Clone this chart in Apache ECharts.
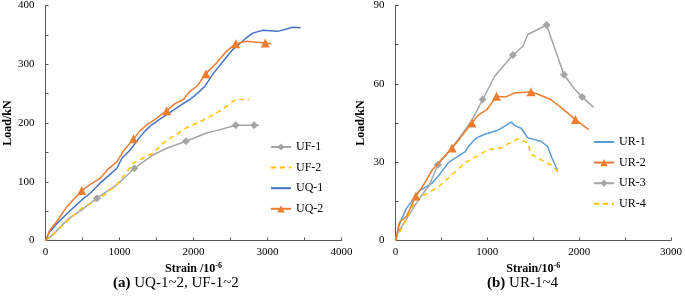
<!DOCTYPE html>
<html>
<head>
<meta charset="utf-8">
<script src="https://cdn.jsdelivr.net/npm/echarts@6/dist/echarts.min.js"></script>
<style>
  html, body { margin: 0; padding: 0; background: #fff; }
  #chart { width: 685px; height: 299px; }
</style>
</head>
<body>
<div id="chart"></div>
<script>
// (a) UQ-1~2, UF-1~2  -- strain (10^-6) / load (kN), marker indices
var uf1Strain = [0, 100, 292, 489, 696, 965, 1202, 1458, 1638, 1898, 2176, 2311, 2450, 2571, 2818, 2885];
var uf1Load   = [0, 10, 35, 52, 72, 95, 123, 146, 157, 169, 183, 187, 192, 196, 196, 196];
var uf1Marks  = [4, 6, 9, 13, 14];

var uf2Strain = [0, 100, 292, 489, 740, 965, 1189, 1458, 1592, 1700, 1907, 2100, 2266, 2400, 2535, 2571, 2760];
var uf2Load   = [0, 10, 33, 55, 72, 95, 132, 149, 166, 175, 192, 203, 214, 224, 237, 240, 240];

var uq1Strain = [0, 50, 150, 292, 489, 600, 740, 850, 965, 1032, 1144, 1256, 1350, 1436, 1550, 1650, 1727, 1850, 1952, 2050, 2150, 2266, 2400, 2530, 2625, 2715, 2800, 2939, 3141, 3342, 3446];
var uq1Load   = [0, 14, 28, 46, 69, 80, 98, 110, 123, 140, 154, 173, 187, 197, 207, 215, 222, 232, 240, 250, 262, 284, 305, 325, 335, 345, 353, 358, 356, 363, 362];

var uq2Strain = [0, 60, 150, 292, 489, 600, 740, 850, 965, 1050, 1189, 1280, 1369, 1500, 1638, 1750, 1862, 1952, 2050, 2167, 2311, 2445, 2571, 2715, 2970, 3051];
var uq2Load   = [0, 18, 32, 58, 85, 95, 106, 122, 134, 152, 173, 187, 197, 208, 221, 233, 240, 254, 263, 284, 302, 322, 335, 339, 336, 335];
var uq2Marks  = [4, 10, 14, 19, 22, 24];

// (b) UR-1~4
var ur1Strain = [0, 40, 115, 258, 400, 473, 581, 760, 795, 870, 957, 1100, 1200, 1261, 1300, 1369, 1441, 1584, 1656, 1700, 1763];
var ur1Load   = [0, 6, 12, 19, 22, 25, 30, 34, 36, 39, 40.5, 42, 44, 45.4, 44, 43, 39.3, 38, 36, 32, 26.8];

var ur2Strain = [0, 43, 115, 222, 300, 400, 500, 616, 700, 831, 900, 992, 1100, 1200, 1297, 1476, 1550, 1691, 1835, 1960, 2104];
var ur2Load   = [0, 7, 9, 17, 21, 27, 31, 35.4, 39, 45, 48, 50, 55.2, 55, 56.5, 57, 56, 54, 50, 46.3, 42.5];
var ur2Marks  = [3, 7, 9, 12, 15, 19];

var ur3Strain = [0, 25, 115, 258, 366, 462, 560, 688, 831, 949, 1082, 1279, 1387, 1441, 1548, 1645, 1835, 1950, 2032, 2157];
var ur3Load   = [0, 3, 8, 16, 21, 29, 33, 39, 46, 54, 63, 71, 74.4, 78.9, 80.8, 82.5, 63.5, 58, 55, 51];
var ur3Marks  = [5, 9, 11, 15, 16, 18];

var ur4Strain = [0, 43, 222, 473, 760, 1011, 1150, 1250, 1333, 1441, 1476, 1580, 1691, 1781];
var ur4Load   = [0, 3, 15.6, 20.7, 29.8, 34.8, 35.5, 37.5, 38.9, 37.4, 33, 31, 29, 26];

var FONT = 'Liberation Serif';

function pts(strain, load, marks) {
  return strain.map(function (s, i) {
    if (marks && marks.indexOf(i) >= 0) return [s, load[i]];
    return { value: [s, load[i]], symbol: 'none' };
  });
}

function line(name, data, color, idx, opt) {
  opt = opt || {};
  return {
    name: name, type: 'line', xAxisIndex: idx, yAxisIndex: idx,
    data: data,
    symbol: opt.symbol || 'circle', symbolSize: opt.size || 8,
    showSymbol: !!opt.symbol,
    showAllSymbol: true,
    itemStyle: { color: color },
    lineStyle: { color: color, width: 1.5, type: opt.dash ? [5, 4] : 'solid' },
    emphasis: { disabled: true },
    z: opt.z || 2
  };
}

function xAx(idx, max, sep) {
  return {
    type: 'value', gridIndex: idx, min: 0, max: max, interval: 500,
    name: 'Strain' + sep + '/10{sup|-6}', nameLocation: 'middle', nameGap: 21,
    nameTextStyle: { fontFamily: FONT, fontWeight: 'bold', fontSize: 12, color: '#000',
      rich: { sup: { fontFamily: FONT, fontWeight: 'bold', fontSize: 8, verticalAlign: 'top', padding: [0, 0, 6, 0] } } },
    axisLine: { lineStyle: { color: '#595959', width: 1 } },
    axisTick: { inside: true, length: 3, lineStyle: { color: '#595959' } },
    axisLabel: { fontFamily: FONT, fontSize: 11, color: '#000', margin: 6,
      formatter: function (v) { return v % 1000 === 0 ? String(v) : ''; } },
    splitLine: { show: false }
  };
}

function yAx(idx, max, step, labelStep, gap) {
  return {
    type: 'value', gridIndex: idx, min: 0, max: max, interval: step,
    name: 'Load/kN', nameLocation: 'middle', nameGap: gap, nameRotate: 90,
    nameTextStyle: { fontFamily: FONT, fontWeight: 'bold', fontSize: 12, color: '#000' },
    axisLine: { show: true, lineStyle: { color: '#595959', width: 1 } },
    axisTick: { show: true, inside: true, length: 3, lineStyle: { color: '#595959' } },
    axisLabel: { fontFamily: FONT, fontSize: 11, color: '#000', margin: 11,
      formatter: function (v) { return v % labelStep === 0 ? String(v) : ''; } },
    splitLine: { show: false }
  };
}

var legendText = { fontFamily: FONT, fontSize: 12, color: '#000' };
// plain-line entries: hide the default circle in the legend icon
function plain(name) { return { name: name, itemStyle: { opacity: 0 } }; }

var chart = echarts.init(document.getElementById('chart'), null, { renderer: 'canvas' });
chart.setOption({
  animation: false,
  backgroundColor: '#fff',
  grid: [
    { left: 45.5, top: 5.5, width: 296, height: 235 },
    { left: 395.5, top: 5.5, width: 279.5, height: 235 }
  ],
  xAxis: [xAx(0, 4000, ' '), xAx(1, 3000, '')],
  yAxis: [yAx(0, 400, 50, 100, 27), yAx(1, 90, 15, 30, 29)],
  legend: [
    { data: ['UF-1', plain('UF-2'), plain('UQ-1'), 'UQ-2'], orient: 'vertical', left: 270, top: 141,
      itemWidth: 20, itemHeight: 9, itemGap: 8.6, textStyle: legendText, padding: 0 },
    { data: [plain('UR-1'), 'UR-2', 'UR-3', plain('UR-4')], orient: 'vertical', left: 593, top: 136,
      itemWidth: 20, itemHeight: 9, itemGap: 8.6, textStyle: legendText, padding: 0 }
  ],
  graphic: [
    { type: 'text', left: 113, top: 276,
      style: { text: '{b|(a)} UQ-1~2, UF-1~2', font: '15px ' + FONT, fill: '#000',
        rich: { b: { fontFamily: FONT, fontSize: 15, fontWeight: 'bold' } } } },
    { type: 'text', left: 487, top: 276,
      style: { text: '{b|(b)} UR-1~4', font: '15px ' + FONT, fill: '#000',
        rich: { b: { fontFamily: FONT, fontSize: 15, fontWeight: 'bold' } } } }
  ],
  series: [
    line('UF-1', pts(uf1Strain, uf1Load, uf1Marks), '#A5A5A5', 0, { symbol: 'diamond', size: 8 }),
    line('UF-2', pts(uf2Strain, uf2Load), '#FFC000', 0, { dash: true }),
    line('UQ-1', pts(uq1Strain, uq1Load), '#4472C4', 0),
    line('UQ-2', pts(uq2Strain, uq2Load, uq2Marks), '#ED7D31', 0, { symbol: 'triangle', size: 9, z: 3 }),
    line('UR-1', pts(ur1Strain, ur1Load), '#5B9BD5', 1),
    line('UR-2', pts(ur2Strain, ur2Load, ur2Marks), '#ED7D31', 1, { symbol: 'triangle', size: 9, z: 3 }),
    line('UR-3', pts(ur3Strain, ur3Load, ur3Marks), '#A5A5A5', 1, { symbol: 'diamond', size: 8 }),
    line('UR-4', pts(ur4Strain, ur4Load), '#FFC000', 1, { dash: true })
  ]
});
</script>
</body>
</html>
